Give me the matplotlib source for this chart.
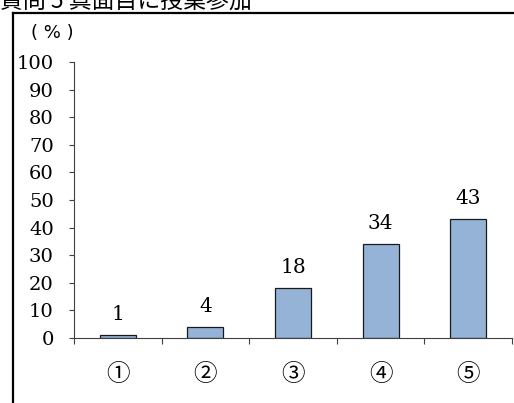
import numpy as np
import matplotlib
matplotlib.use("Agg")
from matplotlib import pyplot as plt
from matplotlib.lines import Line2D

title = "質問 5 真面目に授業参加"
categories = ["①", "②", "③", "④", "⑤"]
values = [1, 4, 18, 34, 43]

serif = "DejaVu Serif"
cjk = ["Noto Sans CJK JP", "DejaVu Sans"]

W, H = 514, 403


def px_x(x):
    return x / W


def px_y(y):
    return 1 - y / H


def main():
    fig = plt.figure(figsize=(W / 100, H / 100), dpi=100)
    fig.patch.set_facecolor("white")

    # frame around chart area (goes off right/bottom)
    fig.add_artist(Line2D([px_x(13), 1.01], [px_y(13), px_y(13)], color="black", lw=1.6))
    fig.add_artist(Line2D([px_x(13), px_x(13)], [px_y(13), -0.01], color="black", lw=1.6))

    fig.text(0, px_y(8), title, family=cjk, fontsize=16.5, va="baseline", ha="left")
    fig.text(px_x(31), px_y(33), "( % )", family="DejaVu Sans", fontsize=13, va="center", ha="left")

    ax = fig.add_axes([px_x(74), px_y(338), px_x(512) - px_x(74), px_y(62) - px_y(338)])
    x = np.arange(len(categories))
    bars = ax.bar(x, values, width=0.41, color="#95b3d7", edgecolor="#1a1a1a", linewidth=0.9)

    for b, v in zip(bars, values):
        ax.annotate(str(v), (b.get_x() + b.get_width() / 2, v), xytext=(0, 8),
                    textcoords="offset points", ha="center", va="bottom",
                    fontsize=14.5, family=serif)

    ax.set_xlim(-0.5, len(categories) - 0.5)
    ax.set_ylim(0, 100)
    ax.set_yticks(np.arange(0, 101, 10))
    ax.set_xticks(np.arange(-0.5, len(categories), 1.0))
    ax.set_xticklabels([])
    ax.set_xticks(x, minor=True)
    ax.set_xticklabels(categories, minor=True, family=cjk, fontsize=17)
    ax.tick_params(axis="x", which="minor", length=0, pad=18)
    ax.tick_params(axis="x", which="major", length=4.5, width=0.8, color="#404040")
    ax.tick_params(axis="y", length=3.6, width=0.8, color="#404040", pad=11)
    for lab in ax.get_yticklabels():
        lab.set_family(serif)
        lab.set_fontsize(14)

    for s in ["top", "right"]:
        ax.spines[s].set_visible(False)
    for s in ["left", "bottom"]:
        ax.spines[s].set_color("#404040")
        ax.spines[s].set_linewidth(0.8)
    ax.set_facecolor("none")

    fig.savefig("out.png", dpi=100)


if __name__ == "__main__":
    main()
